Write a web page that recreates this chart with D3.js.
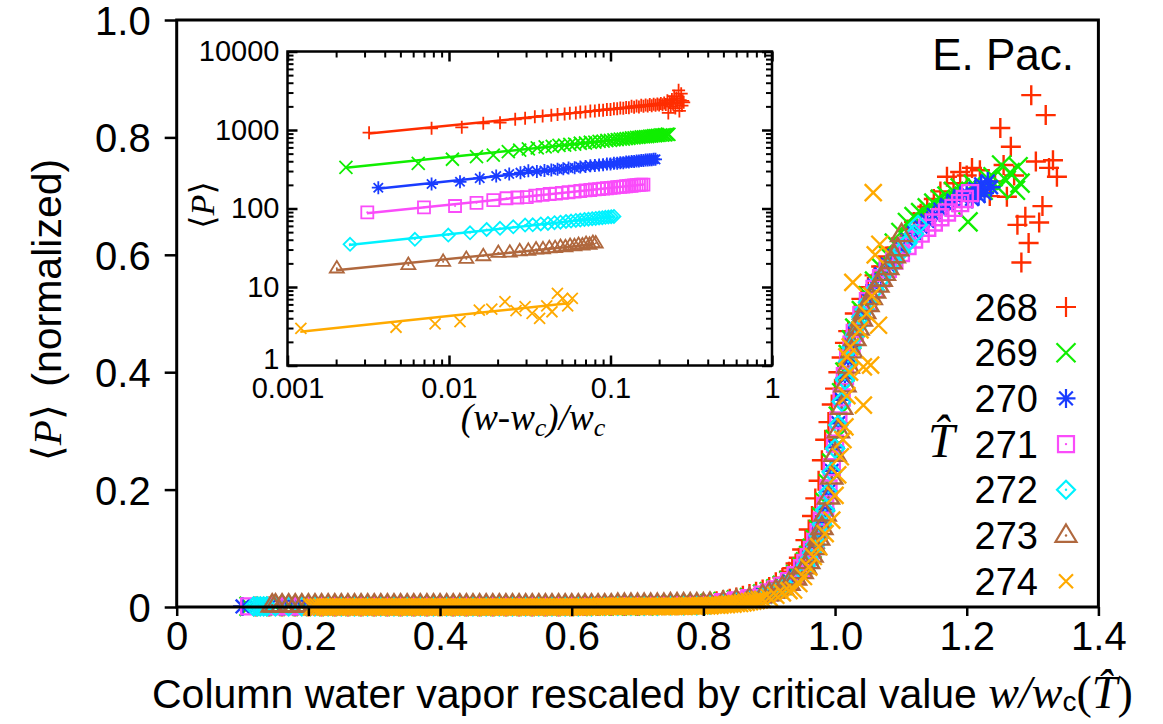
<!DOCTYPE html>
<html>
<head>
<meta charset="utf-8">
<script src="https://cdn.jsdelivr.net/npm/d3@7"></script>
<style>
  body { margin: 0; background: #fff; }
  svg { display: block; }
</style>
</head>
<body>
<svg id="chart" width="1163" height="724"></svg>
<script>
// ---------------------------------------------------------------------------
// Data: precipitation vs. column water vapor, one series per temperature bin
// ---------------------------------------------------------------------------
const temps = ["268", "269", "270", "271", "272", "273", "274"];
const colors = ["#ff2d00", "#10ee00", "#1a3cff", "#fa4cfa", "#00f2ff", "#b0683e", "#ffaa00"];
const shapes = ["plus", "cross", "star", "square", "diamond", "triangle", "cross"];

const mainXTicks = [0, 0.2, 0.4, 0.6, 0.8, 1.0, 1.2, 1.4];
const mainYTicks = [0, 0.2, 0.4, 0.6, 0.8, 1.0];
const insetXTicks = [0.001, 0.01, 0.1, 1];
const insetYTicks = [1, 10, 100, 1000, 10000];

// main panel: [w/wc, <P> normalized]
const main268 = [[0.12,0.001],[0.14,0.001],[0.16,0.001],[0.18,0.001],[0.20,0.001],[0.22,0.001],[0.24,0.001],[0.26,0.001],[0.28,0.001],[0.30,0.001],[0.32,0.001],[0.34,0.001],[0.36,0.001],[0.38,0.001],[0.40,0.001],[0.42,0.001],[0.44,0.001],[0.46,0.001],[0.48,0.001],[0.50,0.001],[0.52,0.001],[0.54,0.001],[0.56,0.001],[0.58,0.001],[0.60,0.001],[0.62,0.002],[0.64,0.002],[0.66,0.002],[0.68,0.002],[0.70,0.002],[0.72,0.003],[0.74,0.003],[0.76,0.003],[0.78,0.004],
  [0.80,0.006],[0.81,0.008],[0.82,0.010],[0.83,0.012],[0.84,0.014],[0.85,0.016],[0.86,0.019],[0.87,0.022],[0.88,0.026],[0.89,0.030],[0.90,0.034],[0.91,0.042],[0.92,0.050],[0.93,0.060],[0.935,0.066],[0.94,0.074],[0.945,0.084],[0.95,0.098],[0.955,0.114],[0.96,0.132],[0.965,0.155],[0.97,0.185],[0.975,0.215],[0.98,0.25],[0.985,0.285],[0.99,0.315],[0.995,0.345],[1.0,0.372],[1.005,0.40],[1.01,0.425],[1.015,0.45],[1.02,0.47],[1.03,0.50],[1.04,0.525],[1.05,0.545],[1.06,0.565],[1.07,0.58],[1.08,0.597],[1.09,0.612],[1.10,0.628],[1.11,0.643],[1.12,0.656],[1.13,0.67],[1.14,0.682],[1.15,0.695],[1.16,0.708],[1.17,0.733],[1.18,0.722],[1.19,0.741],[1.20,0.735],[1.208,0.748],[1.215,0.71],[1.22,0.744],[1.235,0.70],[1.243,0.725],
  [1.251,0.816],[1.256,0.753],[1.261,0.699],[1.267,0.784],[1.272,0.735],[1.277,0.651],[1.283,0.587],[1.289,0.665],[1.294,0.62],[1.298,0.872],[1.305,0.759],[1.31,0.655],[1.315,0.683],[1.32,0.838],[1.325,0.748],[1.331,0.761],[1.337,0.733]];

const main269 = [[0.11,0.001],[0.13,0.001],[0.15,0.001],[0.17,0.001],[0.19,0.001],[0.21,0.001],[0.23,0.001],[0.25,0.001],[0.27,0.001],[0.29,0.001],[0.31,0.001],[0.33,0.001],[0.35,0.001],[0.37,0.001],[0.39,0.001],[0.41,0.001],[0.43,0.001],[0.45,0.001],[0.47,0.001],[0.49,0.001],[0.51,0.001],[0.53,0.001],[0.55,0.001],[0.57,0.001],[0.59,0.001],[0.61,0.001],[0.63,0.002],[0.65,0.002],[0.67,0.002],[0.69,0.002],[0.71,0.002],[0.73,0.003],[0.75,0.003],[0.77,0.003],[0.79,0.004],
  [0.81,0.006],[0.83,0.009],[0.85,0.012],[0.87,0.016],[0.89,0.022],[0.90,0.026],[0.91,0.031],[0.92,0.037],[0.93,0.045],[0.94,0.055],[0.95,0.068],[0.955,0.077],[0.96,0.088],[0.965,0.10],[0.97,0.115],[0.975,0.132],[0.98,0.153],[0.985,0.178],[0.99,0.21],[0.995,0.245],[1.0,0.285],[1.005,0.325],[1.01,0.365],[1.015,0.40],[1.02,0.43],[1.025,0.455],[1.03,0.475],[1.04,0.505],[1.05,0.53],[1.06,0.555],[1.07,0.578],[1.08,0.60],[1.09,0.62],[1.10,0.638],[1.11,0.655],[1.12,0.665],[1.13,0.672],[1.14,0.68],[1.15,0.688],[1.16,0.695],[1.17,0.70],[1.18,0.708],[1.19,0.714],[1.202,0.656],[1.21,0.72],[1.225,0.71],[1.232,0.73],[1.24,0.733],[1.247,0.715],[1.253,0.753],[1.26,0.727],[1.266,0.74],[1.274,0.71],[1.278,0.75],[1.281,0.722]];

const main270 = [[0.10,0.001],[0.12,0.001],[0.14,0.001],[0.16,0.001],[0.18,0.001],[0.20,0.001],[0.22,0.001],[0.24,0.001],[0.26,0.001],[0.28,0.001],[0.30,0.001],[0.32,0.001],[0.34,0.001],[0.36,0.001],[0.38,0.001],[0.40,0.001],[0.42,0.001],[0.44,0.001],[0.46,0.001],[0.48,0.001],[0.50,0.001],[0.52,0.001],[0.54,0.001],[0.56,0.001],[0.58,0.001],[0.60,0.001],[0.62,0.001],[0.64,0.002],[0.66,0.002],[0.68,0.002],[0.70,0.002],[0.72,0.002],[0.74,0.003],[0.76,0.003],[0.78,0.003],
  [0.81,0.005],[0.83,0.008],[0.85,0.011],[0.87,0.015],[0.89,0.02],[0.90,0.024],[0.91,0.029],[0.92,0.035],[0.93,0.043],[0.94,0.052],[0.95,0.064],[0.955,0.072],[0.96,0.082],[0.965,0.094],[0.97,0.108],[0.975,0.124],[0.98,0.143],[0.985,0.167],[0.99,0.197],[0.995,0.232],[1.0,0.272],[1.005,0.313],[1.01,0.353],[1.015,0.39],[1.02,0.42],[1.025,0.445],[1.03,0.466],[1.04,0.498],[1.05,0.524],[1.06,0.548],[1.07,0.567],[1.08,0.583],[1.09,0.598],[1.10,0.612],[1.11,0.625],[1.12,0.637],[1.13,0.648],[1.14,0.658],[1.15,0.668],[1.16,0.677],[1.17,0.685],[1.18,0.692],[1.19,0.70],[1.20,0.705],[1.208,0.695],[1.213,0.712],[1.218,0.70],[1.222,0.72],[1.227,0.705],[1.232,0.725],[1.237,0.715]];

const main271 = [[0.11,0.001],[0.13,0.001],[0.15,0.001],[0.17,0.001],[0.19,0.001],[0.21,0.001],[0.23,0.001],[0.25,0.001],[0.27,0.001],[0.29,0.001],[0.31,0.001],[0.33,0.001],[0.35,0.001],[0.37,0.001],[0.39,0.001],[0.41,0.001],[0.43,0.001],[0.45,0.001],[0.47,0.001],[0.49,0.001],[0.51,0.001],[0.53,0.001],[0.55,0.001],[0.57,0.001],[0.59,0.001],[0.61,0.001],[0.63,0.002],[0.65,0.002],[0.67,0.002],[0.69,0.002],[0.71,0.002],[0.73,0.003],[0.75,0.003],[0.77,0.003],[0.79,0.004],
  [0.81,0.005],[0.83,0.008],[0.85,0.011],[0.87,0.015],[0.89,0.021],[0.90,0.025],[0.91,0.030],[0.92,0.036],[0.93,0.044],[0.94,0.054],[0.95,0.066],[0.955,0.075],[0.96,0.085],[0.965,0.097],[0.97,0.111],[0.975,0.127],[0.98,0.147],[0.985,0.172],[0.99,0.202],[0.995,0.238],[1.0,0.278],[1.005,0.318],[1.01,0.357],[1.015,0.393],[1.02,0.423],[1.025,0.447],[1.03,0.467],[1.04,0.497],[1.05,0.521],[1.06,0.542],[1.07,0.56],[1.08,0.576],[1.09,0.59],[1.10,0.603],[1.11,0.615],[1.12,0.626],[1.13,0.636],[1.14,0.646],[1.15,0.655],[1.16,0.664],[1.17,0.672],[1.18,0.68],[1.19,0.688],[1.197,0.695],[1.205,0.705]];

const main272 = [[0.117,0.001],[0.122,0.001],[0.127,0.001],[0.132,0.001],[0.137,0.001],[0.15,0.001],[0.17,0.001],[0.19,0.001],[0.21,0.001],[0.23,0.001],[0.25,0.001],[0.27,0.001],[0.29,0.001],[0.31,0.001],[0.33,0.001],[0.35,0.001],[0.37,0.001],[0.39,0.001],[0.41,0.001],[0.43,0.001],[0.45,0.001],[0.47,0.001],[0.49,0.001],[0.51,0.001],[0.53,0.001],[0.55,0.001],[0.57,0.001],[0.59,0.001],[0.61,0.001],[0.63,0.001],[0.65,0.002],[0.67,0.002],[0.69,0.002],[0.71,0.002],[0.73,0.002],[0.75,0.003],[0.77,0.003],[0.79,0.003],
  [0.81,0.004],[0.83,0.007],[0.85,0.010],[0.87,0.014],[0.89,0.019],[0.90,0.023],[0.91,0.028],[0.92,0.034],[0.93,0.041],[0.94,0.05],[0.95,0.062],[0.955,0.07],[0.96,0.08],[0.965,0.092],[0.97,0.106],[0.975,0.122],[0.98,0.141],[0.985,0.165],[0.99,0.195],[0.995,0.23],[1.0,0.27],[1.005,0.31],[1.01,0.35],[1.015,0.387],[1.02,0.418],[1.025,0.443],[1.03,0.463],[1.035,0.48],[1.04,0.494],[1.045,0.507],[1.05,0.519],[1.06,0.54],[1.07,0.558],[1.08,0.574],[1.09,0.59],[1.10,0.605],[1.11,0.62],[1.12,0.635],[1.126,0.651]];

const main273 = [[0.145,0.003],[0.15,0.003],[0.16,0.003],[0.17,0.003],[0.18,0.003],[0.19,0.003],[0.20,0.003],[0.21,0.003],[0.22,0.003],[0.23,0.003],[0.24,0.003],[0.25,0.003],[0.26,0.003],[0.27,0.003],[0.28,0.003],[0.29,0.003],[0.30,0.003],[0.31,0.003],[0.32,0.003],[0.33,0.003],[0.34,0.003],[0.35,0.003],[0.36,0.003],[0.37,0.003],[0.38,0.003],[0.39,0.003],[0.40,0.003],[0.41,0.003],[0.42,0.003],[0.43,0.003],[0.44,0.003],[0.45,0.003],[0.46,0.003],[0.47,0.003],[0.48,0.003],[0.49,0.003],[0.50,0.003],[0.51,0.003],[0.52,0.003],[0.53,0.003],[0.54,0.003],[0.55,0.003],[0.56,0.003],[0.57,0.003],[0.58,0.003],[0.59,0.003],[0.60,0.003],[0.61,0.003],[0.62,0.003],[0.63,0.003],[0.64,0.003],[0.65,0.003],[0.66,0.003],[0.67,0.004],[0.68,0.004],[0.69,0.004],[0.70,0.004],[0.71,0.004],[0.72,0.004],[0.73,0.004],[0.74,0.004],[0.75,0.005],[0.76,0.005],[0.77,0.005],[0.78,0.005],[0.79,0.005],[0.80,0.005],
  [0.81,0.006],[0.83,0.008],[0.85,0.011],[0.87,0.014],[0.89,0.019],[0.90,0.022],[0.91,0.027],[0.92,0.033],[0.93,0.04],[0.94,0.049],[0.95,0.06],[0.955,0.068],[0.96,0.077],[0.965,0.088],[0.97,0.101],[0.975,0.117],[0.98,0.135],[0.985,0.158],[0.99,0.187],[0.995,0.221],[1.0,0.26],[1.005,0.30],[1.01,0.34],[1.015,0.378],[1.02,0.41],[1.025,0.436],[1.03,0.457],[1.035,0.475],[1.04,0.49],[1.045,0.503],[1.05,0.515],[1.055,0.527],[1.06,0.538],[1.065,0.548],[1.07,0.558],[1.075,0.568],[1.08,0.578],[1.085,0.588],[1.09,0.598],[1.095,0.61],[1.101,0.634]];

const main274 = [[0.205,0],[0.21,0],[0.215,0],[0.22,0],[0.225,0],[0.23,0],[0.235,0],[0.24,0],[0.245,0],[0.25,0],[0.255,0],[0.26,0],[0.265,0],[0.27,0],[0.275,0],[0.28,0],[0.285,0],[0.29,0],[0.295,0],[0.30,0],[0.305,0],[0.31,0],[0.315,0],[0.32,0],[0.325,0],[0.33,0],[0.335,0],[0.34,0],[0.345,0],[0.35,0],[0.355,0],[0.36,0],[0.365,0],[0.37,0],[0.375,0],[0.38,0],[0.385,0],[0.39,0],[0.395,0],[0.40,0],[0.405,0],[0.41,0],[0.415,0],[0.42,0],[0.425,0],[0.43,0],[0.435,0],[0.44,0],[0.445,0],[0.45,0],[0.455,0],[0.46,0],[0.465,0],[0.47,0],[0.475,0],[0.48,0],[0.485,0],[0.49,0],[0.495,0],[0.50,0],[0.505,0],[0.51,0],[0.515,0],[0.52,0],[0.525,0],[0.53,0],[0.535,0],[0.54,0],[0.545,0],[0.55,0],[0.555,0],[0.56,0],[0.565,0],[0.57,0],[0.575,0],[0.58,0],[0.585,0],[0.59,0],[0.595,0],[0.60,0],[0.605,0],[0.61,0],[0.615,0],[0.62,0],[0.625,0],[0.63,0],[0.635,0],[0.64,0],[0.645,0.001],[0.65,0.001],[0.655,0.001],[0.66,0.001],[0.665,0.001],[0.67,0.001],[0.675,0.001],[0.68,0.001],[0.685,0.001],[0.69,0.001],[0.695,0.001],[0.70,0.001],[0.705,0.001],[0.71,0.001],[0.715,0.001],[0.72,0.001],[0.725,0.001],[0.73,0.001],[0.735,0.001],[0.74,0.001],[0.745,0.001],[0.75,0.001],[0.755,0.001],[0.76,0.001],[0.765,0.001],[0.77,0.001],[0.775,0.002],[0.78,0.002],[0.785,0.002],[0.79,0.002],[0.795,0.002],[0.80,0.002],
  [0.805,0.002],[0.81,0.002],[0.815,0.003],[0.82,0.003],[0.825,0.003],[0.83,0.004],[0.835,0.004],[0.84,0.005],[0.845,0.005],[0.85,0.006],[0.855,0.006],[0.86,0.007],[0.865,0.008],[0.87,0.009],[0.875,0.010],[0.88,0.011],[0.885,0.012],[0.89,0.013],[0.90,0.016],[0.91,0.02],[0.92,0.024],[0.93,0.028],[0.937,0.029],[0.945,0.04],[0.952,0.052],[0.96,0.068],[0.967,0.086],[0.975,0.103],[0.985,0.125],[0.995,0.148],[1.0,0.19],[1.004,0.225],[1.008,0.256],[1.012,0.285],[1.015,0.307],[1.018,0.36],[1.022,0.40],[1.018,0.426],[1.023,0.443],[1.043,0.344],[1.043,0.409],[1.038,0.472],[1.027,0.553],[1.048,0.5],[1.054,0.412],[1.056,0.53],[1.066,0.48],[1.061,0.6],[1.068,0.618],[1.058,0.706]];

// inset panel: [(w - wc)/wc, <P>]
const inset268 = [[0.0032,924],[0.0078,1052],[0.012,1082],[0.0163,1217],[0.0207,1239],[0.0257,1368],[0.0296,1409],[0.034,1470],[0.038,1510],[0.043,1540],[0.047,1580],[0.052,1600],[0.056,1640],[0.061,1650],[0.065,1690],[0.07,1700],[0.075,1740],[0.08,1750],[0.085,1790],[0.09,1790],[0.095,1830],[0.1,1830],[0.105,1870],[0.11,1860],[0.115,1910],[0.12,1890],[0.125,1940],[0.13,1920],[0.135,2000],[0.14,1950],[0.145,2020],[0.15,1970],[0.155,2060],[0.16,2000],[0.165,2080],[0.17,2020],[0.175,2110],[0.18,2040],[0.185,2130],[0.19,2060],[0.195,2150],[0.2,2080],[0.205,2180],[0.21,2100],[0.215,2200],[0.22,2120],[0.225,2350],[0.228,1650],[0.232,2250],[0.236,2000],[0.24,2450],[0.244,2150],[0.248,2700],[0.252,1900],[0.256,2550],[0.26,2200],[0.264,3200],[0.267,1750],[0.27,2400],[0.274,2900],[0.277,2050],[0.28,2350],[0.284,2250]];
const inset269 = [[0.0023,335],[0.00645,376],[0.0105,424],[0.0148,457],[0.0188,480],[0.0233,529],[0.0274,556],[0.031,573],[0.0352,590],[0.0394,608],[0.0436,617],[0.048,635],[0.052,642],[0.056,655],[0.06,660],[0.065,678],[0.07,683],[0.075,698],[0.08,702],[0.085,716],[0.09,720],[0.095,735],[0.1,738],[0.105,750],[0.11,752],[0.115,765],[0.12,766],[0.125,779],[0.13,780],[0.135,792],[0.14,793],[0.145,805],[0.15,804],[0.155,815],[0.16,815],[0.165,826],[0.17,826],[0.175,836],[0.18,836],[0.185,846],[0.19,845],[0.195,856],[0.2,852],[0.205,866],[0.21,860],[0.215,875],[0.22,868],[0.225,884],[0.23,880]];
const inset270 = [[0.00365,184],[0.0078,205],[0.0117,219],[0.0155,243],[0.0196,259],[0.0236,275],[0.0277,286],[0.031,303],[0.035,297],[0.039,305],[0.043,309],[0.047,317],[0.051,320],[0.055,327],[0.06,331],[0.065,339],[0.07,342],[0.075,350],[0.08,352],[0.085,359],[0.09,361],[0.095,368],[0.1,369],[0.105,376],[0.11,377],[0.115,383],[0.12,384],[0.125,390],[0.13,391],[0.135,397],[0.14,397],[0.145,403],[0.15,403],[0.155,409],[0.16,409],[0.165,414],[0.17,414],[0.175,419],[0.18,419],[0.185,424],[0.19,423]];
const inset271 = [[0.00312,89.5],[0.007,103.6],[0.0109,107.6],[0.0148,118],[0.0188,128],[0.0227,135],[0.0265,138],[0.0303,140],[0.0342,146],[0.038,149],[0.042,153],[0.046,155],[0.05,158],[0.055,161],[0.06,164],[0.065,167],[0.07,170],[0.075,172],[0.08,175],[0.085,177],[0.09,179],[0.095,181],[0.1,183],[0.105,185],[0.11,187],[0.115,189],[0.12,190],[0.125,192],[0.13,194],[0.135,195],[0.14,197],[0.145,198],[0.15,200],[0.155,201],[0.16,202]];
const inset272 = [[0.00244,35],[0.00615,40.5],[0.0099,45.9],[0.0135,49],[0.0171,54],[0.0207,56],[0.025,58.5],[0.0296,61.6],[0.033,62],[0.037,63.5],[0.041,64.4],[0.045,66],[0.049,67],[0.053,68.3],[0.057,69.2],[0.061,70.5],[0.065,71.2],[0.069,72.4],[0.073,73.1],[0.077,74.2],[0.081,74.8],[0.085,75.8],[0.089,76.3],[0.093,77.3],[0.097,77.8],[0.101,78.7],[0.105,79.2]];
const inset273 = [[0.00202,17.3],[0.0056,19.1],[0.0092,21],[0.0128,22.9],[0.0163,24.8],[0.0202,27.3],[0.0238,27.5],[0.0274,28.6],[0.031,29],[0.0346,30.2],[0.0382,30.3],[0.0418,31.3],[0.0454,31.4],[0.049,32.4],[0.0526,32.3],[0.0562,33.5],[0.0598,33.2],[0.0634,34.5],[0.067,34],[0.0706,35.5],[0.0742,34.7],[0.0778,36.5],[0.081,36]];
const inset274 = [[0.00121,2.98],[0.0047,3.07],[0.0082,3.38],[0.0117,3.61],[0.0154,5.09],[0.0184,5.24],[0.0222,6.5],[0.026,4.99],[0.0296,5.61],[0.0327,4.62],[0.0364,3.99],[0.0403,5.73],[0.0434,4.84],[0.0469,8.32],[0.0506,7.18],[0.0543,5.73],[0.058,7.18]];

// power-law fits drawn through each inset series: [start, end]
const fit268 = [[0.0032,905],[0.284,2265]];
const fit269 = [[0.0023,330],[0.23,880]];
const fit270 = [[0.0036,178],[0.19,423]];
const fit271 = [[0.0031,87],[0.16,202]];
const fit272 = [[0.0024,34.2],[0.105,79]];
const fit273 = [[0.002,16.3],[0.08,35]];
const fit274 = [[0.0012,2.7],[0.055,6.2]];

const mainSeries = [main268, main269, main270, main271, main272, main273, main274];
const insetSeries = [inset268, inset269, inset270, inset271, inset272, inset273, inset274];
const fitSeries = [fit268, fit269, fit270, fit271, fit272, fit273, fit274];

// ---------------------------------------------------------------------------
// Styling
// ---------------------------------------------------------------------------
const SANS = "'Liberation Sans', Arial, Helvetica, sans-serif";
const SERIF = "'Liberation Serif', 'Times New Roman', Times, serif";
const BRACKET = "'DejaVu Serif', 'DejaVu Sans', serif";
const mainSize = [10, 9.5, 9.5, 8, 9, 10.5, 8.5];
const legendSize = [10, 9.5, 9.5, 8, 9, 10.5, 7];
const insetSize = [6.5, 6.5, 6.5, 6, 6.5, 7, 5.5];
const withDot = [false, false, false, true, true, true, false];

const symbolPath = {
  plus: r => `M${-r},0H${r}M0,${-r}V${r}`,
  cross: r => `M${-r},${-r}L${r},${r}M${-r},${r}L${r},${-r}`,
  star: r => { const c = r * 0.72; return `M${-r},0H${r}M0,${-r}V${r}M${-c},${-c}L${c},${c}M${-c},${c}L${c},${-c}`; },
  square: r => `M${-r},${-r}H${r}V${r}H${-r}Z`,
  diamond: r => `M0,${-r}L${r},0L0,${r}L${-r},0Z`,
  triangle: r => `M0,${-r * 1.05}L${r},${r * 0.6}L${-r},${r * 0.6}Z`
};

const svg = d3.select("#chart");

// ---------------------------------------------------------------------------
// Main panel
// ---------------------------------------------------------------------------
const x = d3.scaleLinear().domain([0, 1.4]).range([176.7, 1098.4]);
const y = d3.scaleLinear().domain([0, 1]).range([607, 20]);
const fmtMain = d => d === 0 ? "0" : d3.format(".1f")(d);

function styleAxis(g, size) {
  g.select(".domain").remove();
  g.selectAll("line").attr("stroke", "#000").attr("stroke-width", 2.5);
  g.selectAll("text").attr("font-size", size).attr("font-family", SANS).attr("fill", "#000");
}

// scatter markers, drawn coolest bin last
const markers = svg.append("g").attr("fill", "none").attr("stroke-linecap", "butt");
mainSeries.forEach((pts, i) => {
  const g = markers.append("g").attr("stroke", colors[i]).attr("stroke-width", 2.4);
  const path = symbolPath[shapes[i]](mainSize[i]);
  g.selectAll("path").data(pts).join("path")
    .attr("transform", d => `translate(${x(d[0])},${y(d[1])})`)
    .attr("d", path);
  if (withDot[i]) {
    g.selectAll("circle").data(pts).join("circle")
      .attr("cx", d => x(d[0])).attr("cy", d => y(d[1])).attr("r", 1.2)
      .attr("fill", colors[i]).attr("stroke", "none");
  }
});

// frame and axes over the markers
svg.append("rect")
  .attr("x", x(0)).attr("y", y(1))
  .attr("width", x(1.4) - x(0)).attr("height", y(0) - y(1))
  .attr("fill", "none").attr("stroke", "#000").attr("stroke-width", 3);

svg.append("g")
  .attr("transform", `translate(0,${y(0)})`)
  .call(d3.axisBottom(x).tickValues(mainXTicks).tickFormat(fmtMain).tickSizeInner(9).tickSizeOuter(0).tickPadding(6))
  .call(g => styleAxis(g, 40));

svg.append("g")
  .attr("transform", `translate(${x(0)},0)`)
  .call(d3.axisLeft(y).tickValues(mainYTicks).tickFormat(fmtMain).tickSizeInner(12).tickSizeOuter(0).tickPadding(14))
  .call(g => styleAxis(g, 40))
  .call(g => g.selectAll("text").attr("dy", "0.36em"));

// region label
svg.append("text")
  .attr("x", 1074).attr("y", 70).attr("text-anchor", "end")
  .attr("font-family", SANS).attr("font-size", 44).text("E. Pac.");

// legend
const legendTop = 307, legendStep = 45.7;
const legend = svg.append("g");
temps.forEach((t, i) => {
  const ly = legendTop + i * legendStep;
  legend.append("text")
    .attr("x", 1038).attr("y", ly).attr("dy", "0.36em").attr("text-anchor", "end")
    .attr("font-family", SANS).attr("font-size", 38).text(t);
  legend.append("path")
    .attr("transform", `translate(1066,${ly})`)
    .attr("d", symbolPath[shapes[i]](legendSize[i]))
    .attr("fill", "none").attr("stroke", colors[i]).attr("stroke-width", 2.2);
  if (withDot[i]) {
    legend.append("circle").attr("cx", 1066).attr("cy", ly).attr("r", 1.2).attr("fill", colors[i]);
  }
});

// temperature symbol (T with a combining circumflex)
svg.append("text")
  .attr("x", 928).attr("y", 457)
  .attr("font-family", SERIF).attr("font-style", "italic").attr("font-size", 48)
  .text("T\u0302");

// y-axis title
const yTitle = svg.append("text")
  .attr("transform", "translate(61,310) rotate(-90)")
  .attr("text-anchor", "middle").attr("font-size", 41).attr("font-family", SANS);
yTitle.append("tspan").attr("font-family", BRACKET).text("\u27E8");
yTitle.append("tspan").attr("font-family", SERIF).attr("font-style", "italic").text("P");
yTitle.append("tspan").attr("font-family", BRACKET).text("\u27E9");
yTitle.append("tspan").attr("dx", 6).text(" (normalized)");

// x-axis title
const xTitle = svg.append("text")
  .attr("x", 152).attr("y", 708).attr("font-family", SANS).attr("font-size", 41);
xTitle.append("tspan").text("Column water vapor rescaled by critical value ");
xTitle.append("tspan").attr("font-family", SERIF).attr("font-style", "italic").attr("font-size", 46).text("w/w");
xTitle.append("tspan").attr("font-size", 28).attr("dy", 3).text("c");
xTitle.append("tspan").attr("font-family", SERIF).attr("font-size", 46).attr("dy", -3).text("(");
xTitle.append("tspan").attr("font-family", SERIF).attr("font-style", "italic").attr("font-size", 46).text("T\u0302");
xTitle.append("tspan").attr("font-family", SERIF).attr("font-size", 46).text(")");

// ---------------------------------------------------------------------------
// Inset: log-log power-law view above the transition
// ---------------------------------------------------------------------------
const xi = d3.scaleLog().domain([0.001, 1]).range([287.5, 772]);
const yi = d3.scaleLog().domain([1, 10000]).range([365.5, 51.5]);
const inset = svg.append("g");
inset.append("rect")
  .attr("x", xi(0.001)).attr("y", yi(10000))
  .attr("width", xi(1) - xi(0.001)).attr("height", yi(1) - yi(10000))
  .attr("fill", "#fff");

const xMinor = xi.ticks().filter(v => !insetXTicks.some(t => Math.abs(t - v) / t < 1e-9));
const yMinor = yi.ticks().filter(v => !insetYTicks.some(t => Math.abs(t - v) / t < 1e-9));
const fmtLog = d => String(d);

function insetAxis(axisFn, scale, pos, majors, minors, labels, padding) {
  const major = axisFn(scale).tickValues(majors).tickSizeInner(-10).tickSizeOuter(0).tickPadding(padding)
    .tickFormat(labels ? fmtLog : () => "");
  const minor = axisFn(scale).tickValues(minors).tickSizeInner(-6).tickSizeOuter(0).tickFormat(() => "");
  const g = inset.append("g").attr("transform", pos).call(major).call(s => styleAxis(s, 29));
  inset.append("g").attr("transform", pos).call(minor).call(s => styleAxis(s, 29))
    .selectAll("line").attr("stroke-width", 2);
  return g;
}
insetAxis(d3.axisBottom, xi, `translate(0,${yi(1)})`, insetXTicks, xMinor, true, 12);
insetAxis(d3.axisTop, xi, `translate(0,${yi(10000)})`, insetXTicks, xMinor, false, 9);
insetAxis(d3.axisLeft, yi, `translate(${xi(0.001)},0)`, insetYTicks, yMinor, true, 8)
  .selectAll("text").attr("dy", d => d === 1 ? "0.1em" : "0.32em");
insetAxis(d3.axisRight, yi, `translate(${xi(1)},0)`, insetYTicks, yMinor, false, 9);

const fitLine = d3.line().x(d => xi(d[0])).y(d => yi(d[1]));
fitSeries.forEach((f, i) => {
  inset.append("path").attr("d", fitLine(f))
    .attr("fill", "none").attr("stroke", colors[i]).attr("stroke-width", 2.5);
});
insetSeries.forEach((pts, i) => {
  const g = inset.append("g").attr("fill", "none").attr("stroke", colors[i]).attr("stroke-width", 1.8);
  const path = symbolPath[shapes[i]](insetSize[i]);
  g.selectAll("path").data(pts).join("path")
    .attr("transform", d => `translate(${xi(d[0])},${yi(d[1])})`)
    .attr("d", path);
  if (withDot[i]) {
    g.selectAll("circle").data(pts).join("circle")
      .attr("cx", d => xi(d[0])).attr("cy", d => yi(d[1])).attr("r", 1)
      .attr("fill", colors[i]).attr("stroke", "none");
  }
});

inset.append("rect")
  .attr("x", xi(0.001)).attr("y", yi(10000))
  .attr("width", xi(1) - xi(0.001)).attr("height", yi(1) - yi(10000))
  .attr("fill", "none").attr("stroke", "#000").attr("stroke-width", 2.5);

// inset axis titles
const iyTitle = inset.append("text")
  .attr("transform", "translate(214,205) rotate(-90)")
  .attr("text-anchor", "middle").attr("font-size", 34);
iyTitle.append("tspan").attr("font-family", BRACKET).text("\u27E8");
iyTitle.append("tspan").attr("font-family", SERIF).attr("font-style", "italic").text("P");
iyTitle.append("tspan").attr("font-family", BRACKET).text("\u27E9");

const ixTitle = inset.append("text")
  .attr("x", 533).attr("y", 430).attr("text-anchor", "middle")
  .attr("font-family", SERIF).attr("font-style", "italic").attr("font-size", 37);
ixTitle.append("tspan").text("(w-w");
ixTitle.append("tspan").attr("font-size", 26).attr("dy", 6).text("c");
ixTitle.append("tspan").attr("dy", -6).text(")/w");
ixTitle.append("tspan").attr("font-size", 26).attr("dy", 6).text("c");
</script>
</body>
</html>
